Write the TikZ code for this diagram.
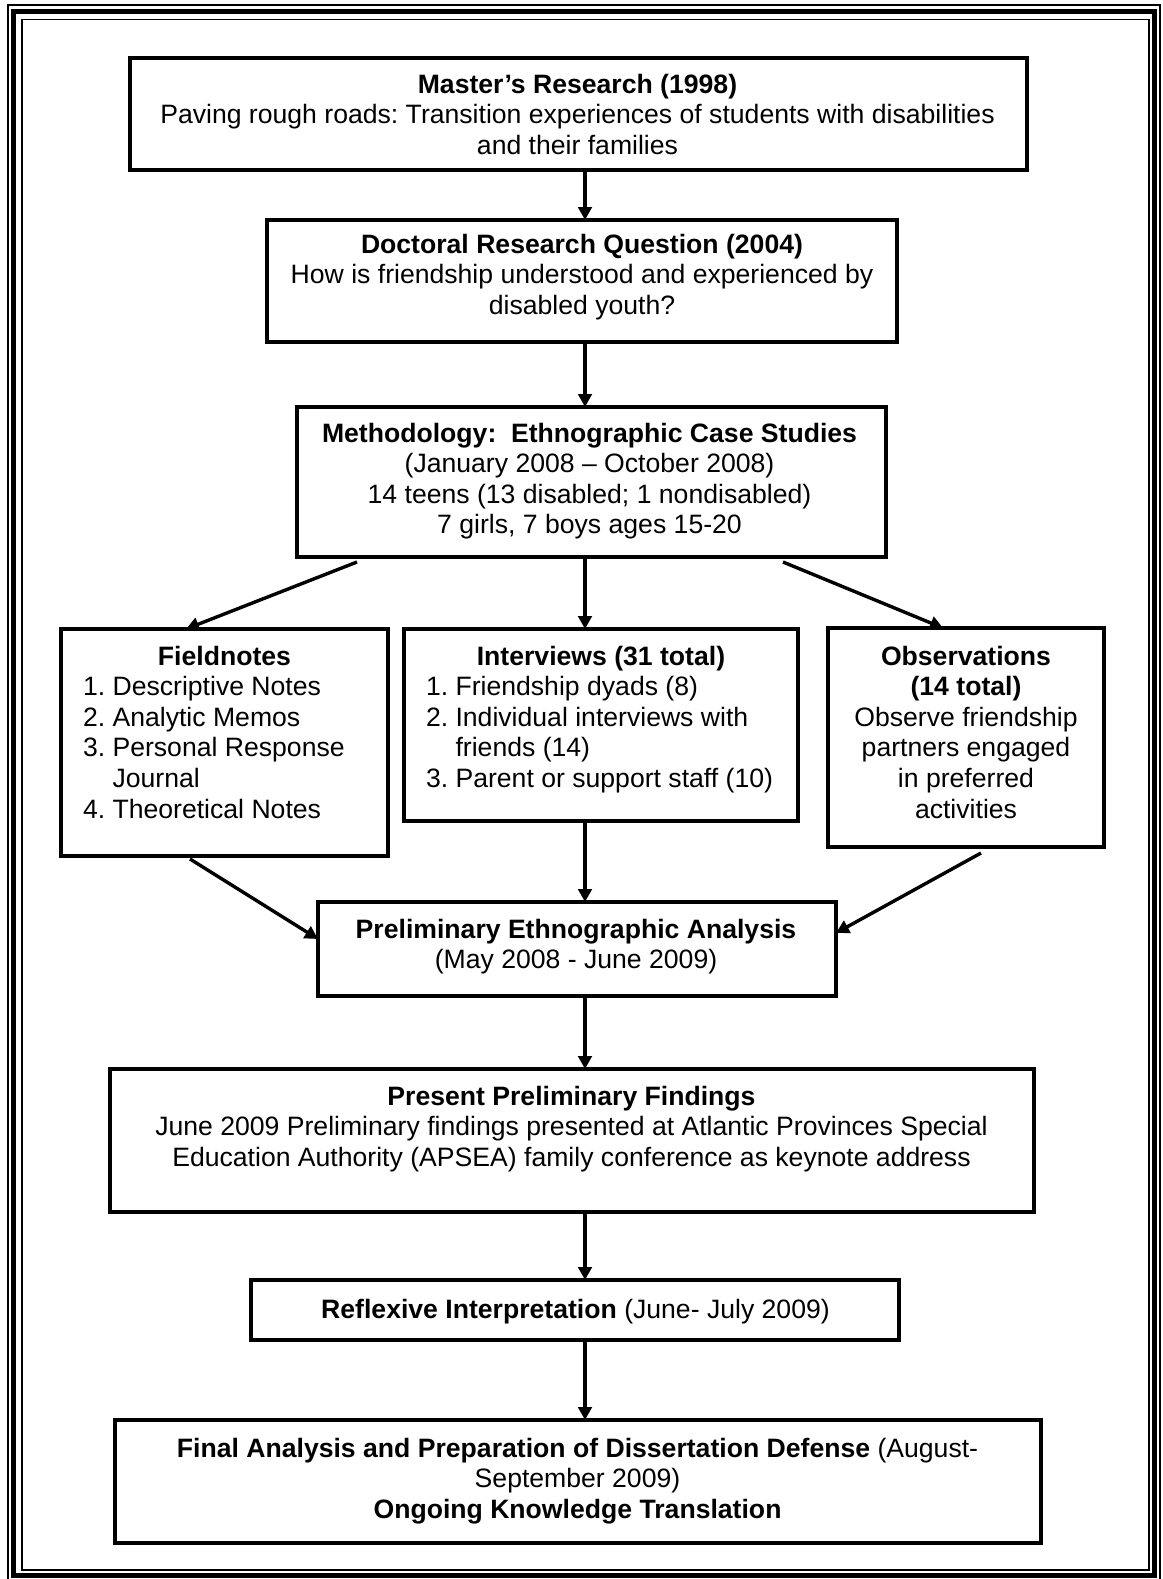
\documentclass[tikz,border=0pt]{standalone}
\usepackage{fontspec}
\setmainfont{Liberation Sans}
\usetikzlibrary{arrows.meta}
\begin{document}
\frenchspacing
\begin{tikzpicture}[x=1pt,y=-1pt,
  boxst/.style={draw, line width=3.7pt, inner sep=0pt, outer sep=0pt, anchor=north west},
  txt/.style={inner sep=0pt, outer sep=0pt, font=\fontsize{26.6}{30.6}\selectfont\frenchspacing, align=center, anchor=north},
  lst/.style={txt, align=left, anchor=north west},
  arr/.style={line width=3.4pt, -{Triangle[length=13pt,width=13.5pt]}},
  thinframe/.style={line width=1.5pt},
  thickframe/.style={line width=5pt}
]
\useasboundingbox (0,0) rectangle (1162,1579);
% page border
\draw[thinframe] (7.8,5.2) rectangle (1160,1581);
\draw[thickframe] (13.5,11.7) rectangle (1154.2,1575.2);
\draw[thinframe] (21.8,19.5) rectangle (1149.2,1570.2);

% boxes
\node[boxst, minimum width=897pt, minimum height=112pt] (b1) at (130,58) {};
\node[boxst, minimum width=630pt, minimum height=122pt] (b2) at (267,220) {};
\node[boxst, minimum width=589pt, minimum height=150pt] (b3) at (297,407) {};
\node[boxst, minimum width=327pt, minimum height=227pt] (b4) at (61,629) {};
\node[boxst, minimum width=394pt, minimum height=192pt] (b5) at (404,629) {};
\node[boxst, minimum width=276pt, minimum height=219pt] (b6) at (828,628) {};
\node[boxst, minimum width=518pt, minimum height=94pt] (b7) at (318,902) {};
\node[boxst, minimum width=924pt, minimum height=143pt] (b8) at (110,1069) {};
\node[boxst, minimum width=648pt, minimum height=60pt] (b9) at (251,1280) {};
\node[boxst, minimum width=926pt, minimum height=123pt] (b10) at (115,1420) {};

% texts
\node[txt] (t1) at (577.5,71.6) {\strut\textbf{Master’s Research (1998)}\\Paving rough roads: Transition experiences of students with disabilities\\and their families};
\node[txt] (t2) at (582,231.6) {\strut\textbf{Doctoral Research Question (2004)}\\How is friendship understood and experienced by\\disabled youth?};
\node[txt] (t3) at (589.5,420.6) {\strut\textbf{Methodology:\ \ Ethnographic Case Studies}\\(January 2008 \textendash{} October 2008)\\14 teens (13 disabled; 1 nondisabled)\\7 girls, 7 boys ages 15-20};
\node[txt] (t4) at (224.5,643.6) {\strut\textbf{Fieldnotes}};
\node[lst] (l4) at (83,674.2) {\strut 1.\ Descriptive Notes\\2.\ Analytic Memos\\3.\ Personal Response\\\hphantom{3.\ }Journal\\4.\ Theoretical Notes};
\node[txt] (t5) at (601,643.6) {\strut\textbf{Interviews (31 total)}};
\node[lst] (l5) at (426,674.2) {\strut 1.\ Friendship dyads (8)\\2.\ Individual interviews with\\\hphantom{2.\ }friends (14)\\3.\ Parent or support staff (10)};
\node[txt] (t6) at (966,643.6) {\strut\textbf{Observations}\\\textbf{(14 total)}\\Observe friendship\\partners engaged\\in preferred\\activities};
\node[txt] (t7) at (576,916.6) {\strut\textbf{Preliminary Ethnographic Analysis}\\(May 2008 - June 2009)};
\node[txt] (t8) at (571.5,1083.6) {\strut\textbf{Present Preliminary Findings}\\June 2009 Preliminary findings presented at Atlantic Provinces Special\\Education Authority (APSEA) family conference as keynote address};
\node[txt] (t9) at (575.5,1296.6) {\strut\textbf{Reflexive Interpretation} (June- July 2009)};
\node[txt] (t10) at (577.5,1435.6) {\strut\textbf{Final Analysis and Preparation of Dissertation Defense} (August-\\September 2009)\\\textbf{Ongoing Knowledge Translation}};

% connectors
\coordinate (ax) at (585,0);
\draw[arr] (b1.south -| ax) -- (b2.north -| ax);
\draw[arr] (b2.south -| ax) -- (b3.north -| ax);
\draw[arr] (b3.south -| ax) -- (b5.north -| ax);
\draw[arr] ([xshift=60pt,yshift=-5pt]b3.south west) -- ([xshift=125pt]b4.north west);
\draw[arr] ([xshift=-103pt,yshift=-5pt]b3.south east) -- ([xshift=115pt]b6.north west);
\draw[arr] ([xshift=129pt,yshift=-3pt]b4.south west) -- ([yshift=10pt]b7.west);
\draw[arr] (b5.south -| ax) -- (b7.north -| ax);
\draw[arr] ([xshift=153pt,yshift=-6pt]b6.south west) -- ([yshift=16pt]b7.east);
\draw[arr] (b7.south -| ax) -- (b8.north -| ax);
\draw[arr] (b8.south -| ax) -- (b9.north -| ax);
\draw[arr] (b9.south -| ax) -- (b10.north -| ax);
\end{tikzpicture}
\end{document}
